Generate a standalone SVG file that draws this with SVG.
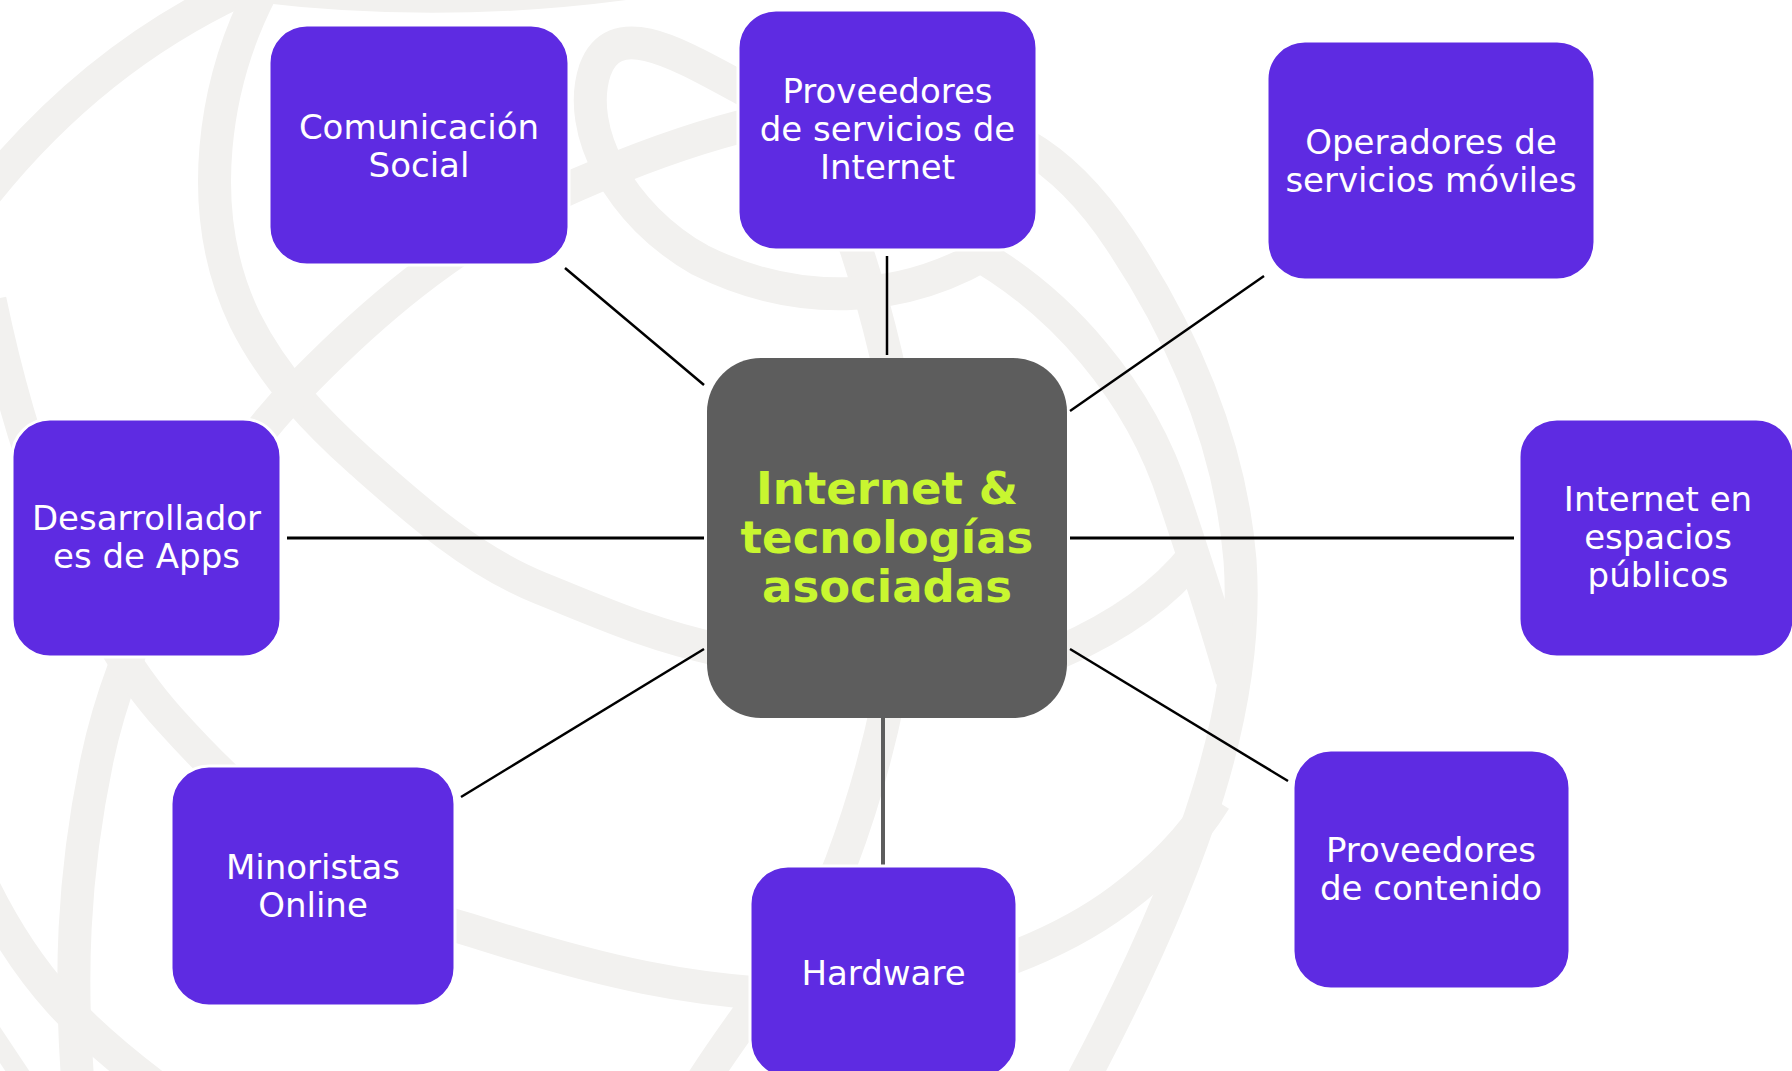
<svg xmlns="http://www.w3.org/2000/svg" width="1792" height="1071" viewBox="0 0 1792 1071">
  <style>
    .band { fill: none; stroke: #f2f1ef; stroke-width: 33; }
    .node rect { fill: #5e2be2; stroke: #ffffff; stroke-width: 3; }
    .lbl { fill: #ffffff; font-family: "DejaVu Sans", Verdana, sans-serif; font-size: 34px; text-anchor: middle; }
    .center rect { fill: #5d5d5d; }
    .clbl { fill: #c8f630; font-family: "DejaVu Sans", Verdana, sans-serif; font-weight: bold; font-size: 45px; text-anchor: middle; }
    .conn { stroke: #000000; stroke-width: 2.5; fill: none; }
  </style>
  <rect x="0" y="0" width="1792" height="1071" fill="#ffffff"/>
  <g id="background">
    <path class="band" d="M 240 -10 Q 90 60 -20 200"/>
    <path class="band" d="M 250 -15 Q 450 10 650 -20"/>
    <path class="band" d="M 262 -10 C 215 80, 192 210, 245 320 C 275 380, 320 425, 359 460 C 410 505, 470 560, 540 588 C 600 612, 650 635, 720 650"/>
    <path class="band" d="M 78 1085 C 70 980, 72 880, 97 760 C 120 650, 190 500, 305 381 C 360 325, 450 240, 574 186 C 680 140, 800 100, 900 110 C 1000 120, 1060 150, 1120 240 C 1180 330, 1230 440, 1240 560 C 1250 700, 1200 860, 1080 1085"/>
    <path class="band" d="M 970 250 C 1060 300, 1140 390, 1175 500 C 1195 560, 1215 620, 1232 680"/>
    <path class="band" d="M 1060 652 C 1110 630, 1160 600, 1195 555"/>
    <path class="band" d="M -10 300 C 15 420, 70 610, 170 720 C 260 820, 360 900, 470 930 C 580 965, 700 1000, 850 995 C 950 990, 1060 945, 1120 900 C 1160 870, 1190 840, 1215 800"/>
    <path class="band" d="M 835 190 C 870 280, 910 420, 908 530 C 906 640, 880 760, 841 863 C 810 945, 760 990, 700 1085"/>
    <path class="band" d="M 745 90 C 680 55, 615 15, 595 70 C 575 130, 620 215, 700 260 C 790 305, 900 310, 1000 245"/>
    <path class="band" d="M -15 890 C 30 980, 80 1030, 160 1090"/>
    <path class="band" style="stroke-width:20" d="M -10 1030 L 30 1090"/>
  </g>
  <g id="connectors">
    <line class="conn" x1="565" y1="268" x2="704" y2="385"/>
    <line class="conn" x1="887" y1="256" x2="887" y2="355"/>
    <line class="conn" x1="1264" y1="276" x2="1070" y2="411"/>
    <line class="conn" style="stroke-width:3" x1="287" y1="538" x2="704" y2="538"/>
    <line class="conn" style="stroke-width:3" x1="1070" y1="538" x2="1514" y2="538"/>
    <line class="conn" x1="461" y1="797" x2="704" y2="649"/>
    <line class="conn" style="stroke:#5d5d5d;stroke-width:4" x1="883" y1="718" x2="883" y2="867"/>
    <line class="conn" x1="1070" y1="649" x2="1288" y2="781"/>
  </g>
  <g id="node-center" class="center">
    <rect x="707" y="358" width="360" height="360" rx="54" ry="54"/>
    <text class="clbl" x="887" y="504">Internet &amp;</text>
    <text class="clbl" x="887" y="553">tecnologías</text>
    <text class="clbl" x="887" y="602">asociadas</text>
  </g>
  <g id="node-comunicacion" class="node">
    <rect x="269" y="25" width="300" height="240" rx="38" ry="38"/>
    <text class="lbl" x="419" y="139">Comunicación</text>
    <text class="lbl" x="419" y="177">Social</text>
  </g>
  <g id="node-proveedores-internet" class="node">
    <rect x="738" y="10" width="299" height="240" rx="38" ry="38"/>
    <text class="lbl" x="887.5" y="103">Proveedores</text>
    <text class="lbl" x="887.5" y="141">de servicios de</text>
    <text class="lbl" x="887.5" y="179">Internet</text>
  </g>
  <g id="node-operadores" class="node">
    <rect x="1267" y="41" width="328" height="239" rx="38" ry="38"/>
    <text class="lbl" x="1431" y="154">Operadores de</text>
    <text class="lbl" x="1431" y="192">servicios móviles</text>
  </g>
  <g id="node-desarrolladores" class="node">
    <rect x="12" y="419" width="269" height="238" rx="38" ry="38"/>
    <text class="lbl" x="146.5" y="530">Desarrollador</text>
    <text class="lbl" x="146.5" y="568">es de Apps</text>
  </g>
  <g id="node-espacios-publicos" class="node">
    <rect x="1519" y="419" width="275" height="238" rx="38" ry="38"/>
    <text class="lbl" x="1658" y="511">Internet en</text>
    <text class="lbl" x="1658" y="549">espacios</text>
    <text class="lbl" x="1658" y="587">públicos</text>
  </g>
  <g id="node-minoristas" class="node">
    <rect x="171" y="766" width="284" height="240" rx="38" ry="38"/>
    <text class="lbl" x="313" y="879">Minoristas</text>
    <text class="lbl" x="313" y="917">Online</text>
  </g>
  <g id="node-hardware" class="node">
    <rect x="750" y="866" width="267" height="212" rx="38" ry="38"/>
    <text class="lbl" x="883.5" y="985">Hardware</text>
  </g>
  <g id="node-contenido" class="node">
    <rect x="1293" y="750" width="277" height="239" rx="38" ry="38"/>
    <text class="lbl" x="1431" y="862">Proveedores</text>
    <text class="lbl" x="1431" y="900">de contenido</text>
  </g>
</svg>
